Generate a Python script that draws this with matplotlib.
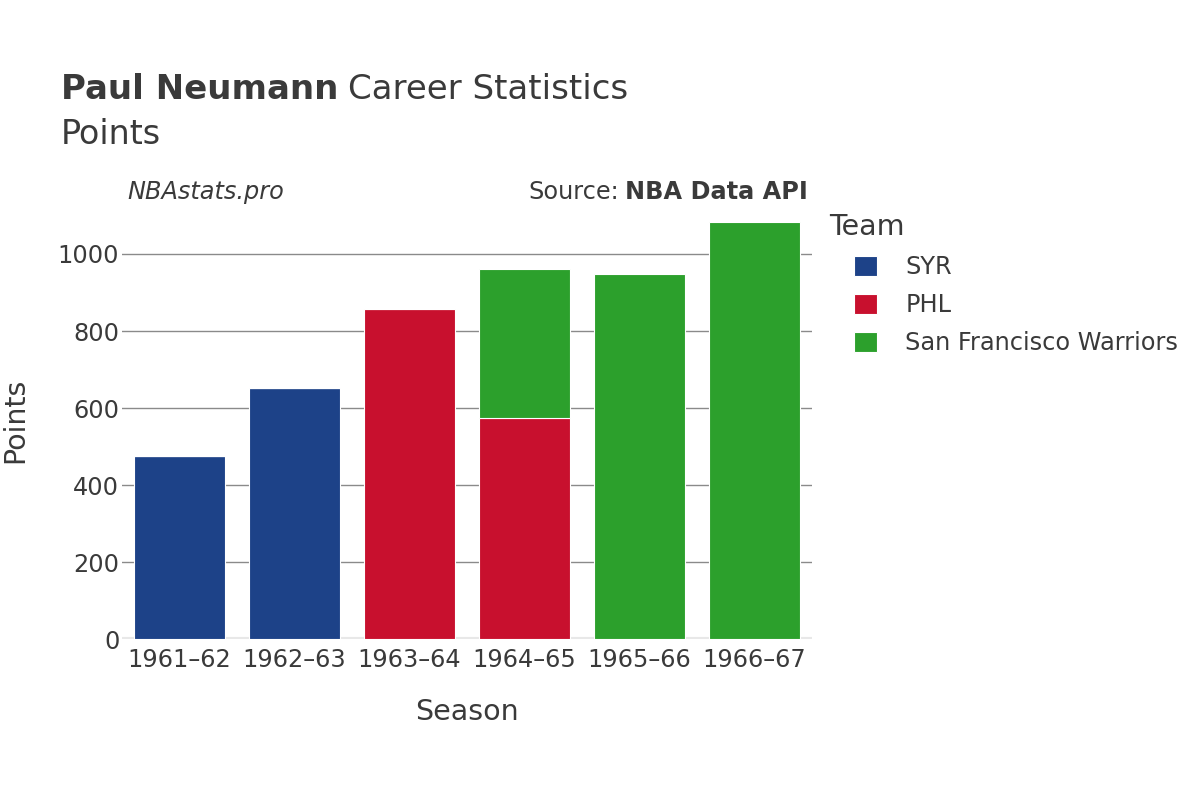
import matplotlib.pyplot as plt
import numpy as np

seasons = ['1961–62', '1962–63', '1963–64', '1964–65', '1965–66', '1966–67']
teams = ['SYR', 'PHL', 'San Francisco Warriors']
team_colors = ['#1d4288', '#c8102e', '#2ca02c']
# points per season for each team (0 = did not play for that team)
syr = [475, 652, 0, 0, 0, 0]
phl = [0, 0, 856, 573, 0, 0]
sfw = [0, 0, 0, 389, 949, 1082]

TXT = '#3a3a3a'

fig = plt.figure(figsize=(12, 8), dpi=100)
ax = fig.add_axes([0.1017, 0.201, 0.575, 0.548])

x = np.arange(len(seasons))
bottom = np.zeros(len(seasons))
for name, vals, col in zip(teams, [syr, phl, sfw], team_colors):
    vals = np.array(vals, dtype=float)
    ax.bar(x, vals, width=0.79, bottom=bottom, color=col, label=name,
           edgecolor='white', linewidth=0.8, zorder=3)
    bottom += vals

ax.set_xlim(-0.5, len(seasons) - 0.5)
ax.set_ylim(0, 1138)
ax.set_yticks([0, 200, 400, 600, 800, 1000])
ax.set_xticks(x)
ax.set_xticklabels(seasons)
ax.yaxis.grid(True, color='#8a8a8a', linewidth=1, zorder=0)
ax.axhline(0, color='#e8e8e8', linewidth=3, zorder=2)
for s in ax.spines.values():
    s.set_visible(False)
ax.tick_params(axis='both', length=0, labelsize=17.3, colors=TXT)
ax.tick_params(axis='x', pad=6)
ax.tick_params(axis='y', pad=2)

ax.set_xlabel('Season', fontsize=20.5, color=TXT, labelpad=19)
ax.set_ylabel('Points', fontsize=20.5, color=TXT)
ax.yaxis.set_label_coords(-0.1350, 0.5)

fig.text(0.051, 0.888, 'Paul Neumann', fontsize=24.5, fontweight='bold',
         color=TXT, va='center')
fig.text(0.290, 0.888, 'Career Statistics', fontsize=24.5, color=TXT, va='center')
fig.text(0.051, 0.832, 'Points', fontsize=24, color=TXT, va='center')

fig.text(0.106, 0.760, 'NBAstats.pro', fontsize=17.3, style='italic',
         color=TXT, va='center')
fig.text(0.673, 0.760, 'NBA Data API', fontsize=17.3, fontweight='bold',
         color=TXT, va='center', ha='right')
fig.text(0.516, 0.760, 'Source:', fontsize=17.3, color=TXT, va='center', ha='right')

fig.text(0.691, 0.716, 'Team', fontsize=20.5, color=TXT, va='center')
leg = fig.legend(loc='upper left', bbox_to_anchor=(0.712, 0.681), frameon=False,
                 fontsize=17.3, handlelength=0.92, handleheight=0.92,
                 handletextpad=1.2, labelspacing=0.58, borderaxespad=0,
                 borderpad=0)
for t in leg.get_texts():
    t.set_color(TXT)

fig.savefig('out.png', dpi=100, facecolor='white')
